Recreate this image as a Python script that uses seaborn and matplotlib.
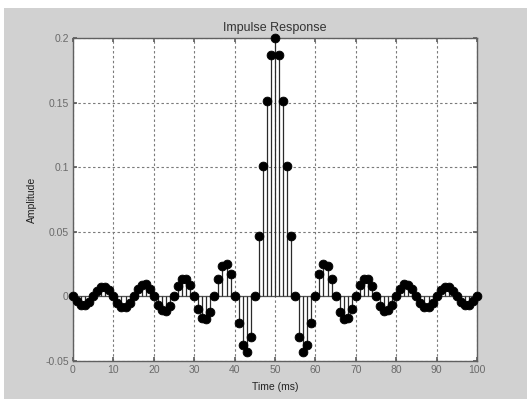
import numpy as np
import pandas as pd
import matplotlib
matplotlib.use("Agg")
import matplotlib.pyplot as plt
import seaborn as sns
from matplotlib.patches import Rectangle

# Data (impulse response, t = 0..100 ms)
time_ms = list(range(0, 101))
amplitude = [
    0.0, -0.0038, -0.0063, -0.0064, -0.0041, 0.0, 0.0043, 0.0070, 0.0072, 0.0046,
    0.0, -0.0048, -0.0080, -0.0082, -0.0052, 0.0, 0.0055, 0.0092, 0.0095, 0.0060,
    0.0, -0.0065, -0.0108, -0.0112, -0.0072, 0.0, 0.0078, 0.0132, 0.0138, 0.0089,
    0.0, -0.0098, -0.0168, -0.0178, -0.0117, 0.0, 0.0134, 0.0233, 0.0252, 0.0170,
    0.0, -0.0208, -0.0378, -0.0432, -0.0312, 0.0, 0.0468, 0.1009, 0.1514, 0.1871,
    0.2000,
    0.1871, 0.1514, 0.1009, 0.0468, 0.0, -0.0312, -0.0432, -0.0378, -0.0208, 0.0,
    0.0170, 0.0252, 0.0233, 0.0134, 0.0, -0.0117, -0.0178, -0.0168, -0.0098, 0.0,
    0.0089, 0.0138, 0.0132, 0.0078, 0.0, -0.0072, -0.0112, -0.0108, -0.0065, 0.0,
    0.0060, 0.0095, 0.0092, 0.0055, 0.0, -0.0052, -0.0082, -0.0080, -0.0048, 0.0,
    0.0046, 0.0072, 0.0070, 0.0043, 0.0, -0.0041, -0.0064, -0.0063, -0.0038, 0.0,
]
x_ticks = [0, 10, 20, 30, 40, 50, 60, 70, 80, 90, 100]
y_ticks = [-0.05, 0, 0.05, 0.1, 0.15, 0.2]
y_tick_labels = ["-0.05", "0", "0.05", "0.1", "0.15", "0.2"]

df = pd.DataFrame({"Time (ms)": time_ms, "Amplitude": amplitude})

sns.set_theme(style="white")
plt.rcParams["font.family"] = ["Liberation Sans", "DejaVu Sans"]

W, H = 528, 401
fig = plt.figure(figsize=(W / 100, H / 100), dpi=100)
fig.patch.set_facecolor("white")
bg = "#d1d1d1"
fig.patches.append(Rectangle((4 / W, 1 - 399 / H), (527 - 4) / W, (399 - 8) / H,
                             transform=fig.transFigure, facecolor=bg,
                             edgecolor="none", zorder=-10))

ax = fig.add_axes([73 / W, 1 - 361 / H, (477 - 73) / W, (361 - 38) / H])
ax.set_zorder(1)
ax.set_facecolor("white")

# stems and baseline
ax.axhline(0, color="#555555", lw=0.9, zorder=2)
ax.vlines(df["Time (ms)"], 0, df["Amplitude"], color="#2a2a2a", lw=0.9, zorder=3)
sns.scatterplot(data=df, x="Time (ms)", y="Amplitude", ax=ax, s=40,
                color="black", edgecolor="black", linewidth=0.6, zorder=4,
                clip_on=False, legend=False)

ax.set_xlim(0, 100)
ax.set_ylim(-0.05, 0.2)
ax.set_xticks(x_ticks)
ax.set_xticklabels([str(v) for v in x_ticks])
ax.set_yticks(y_ticks)
ax.set_yticklabels(y_tick_labels)

ax.grid(True, color="#7a7a7a", linestyle=(0, (2.2, 2.2)), lw=0.8)
ax.set_axisbelow(True)
for s in ax.spines.values():
    s.set_color("#606060")
    s.set_linewidth(1.0)
    s.set_visible(True)

ax.tick_params(axis="both", which="both", direction="in", length=3,
               color="#606060", labelsize=7.5, labelcolor="#6a6a6a",
               pad=3, bottom=True, left=True, top=True, right=True)

ax.set_title("Impulse Response", fontsize=9, color="#333333", pad=5)
ax.set_xlabel("Time (ms)", fontsize=7.5, color="#222222", labelpad=5)
ax.set_ylabel("Amplitude", fontsize=7.5, color="#222222", labelpad=6)

fig.savefig("out.png", dpi=100, facecolor=fig.get_facecolor())
